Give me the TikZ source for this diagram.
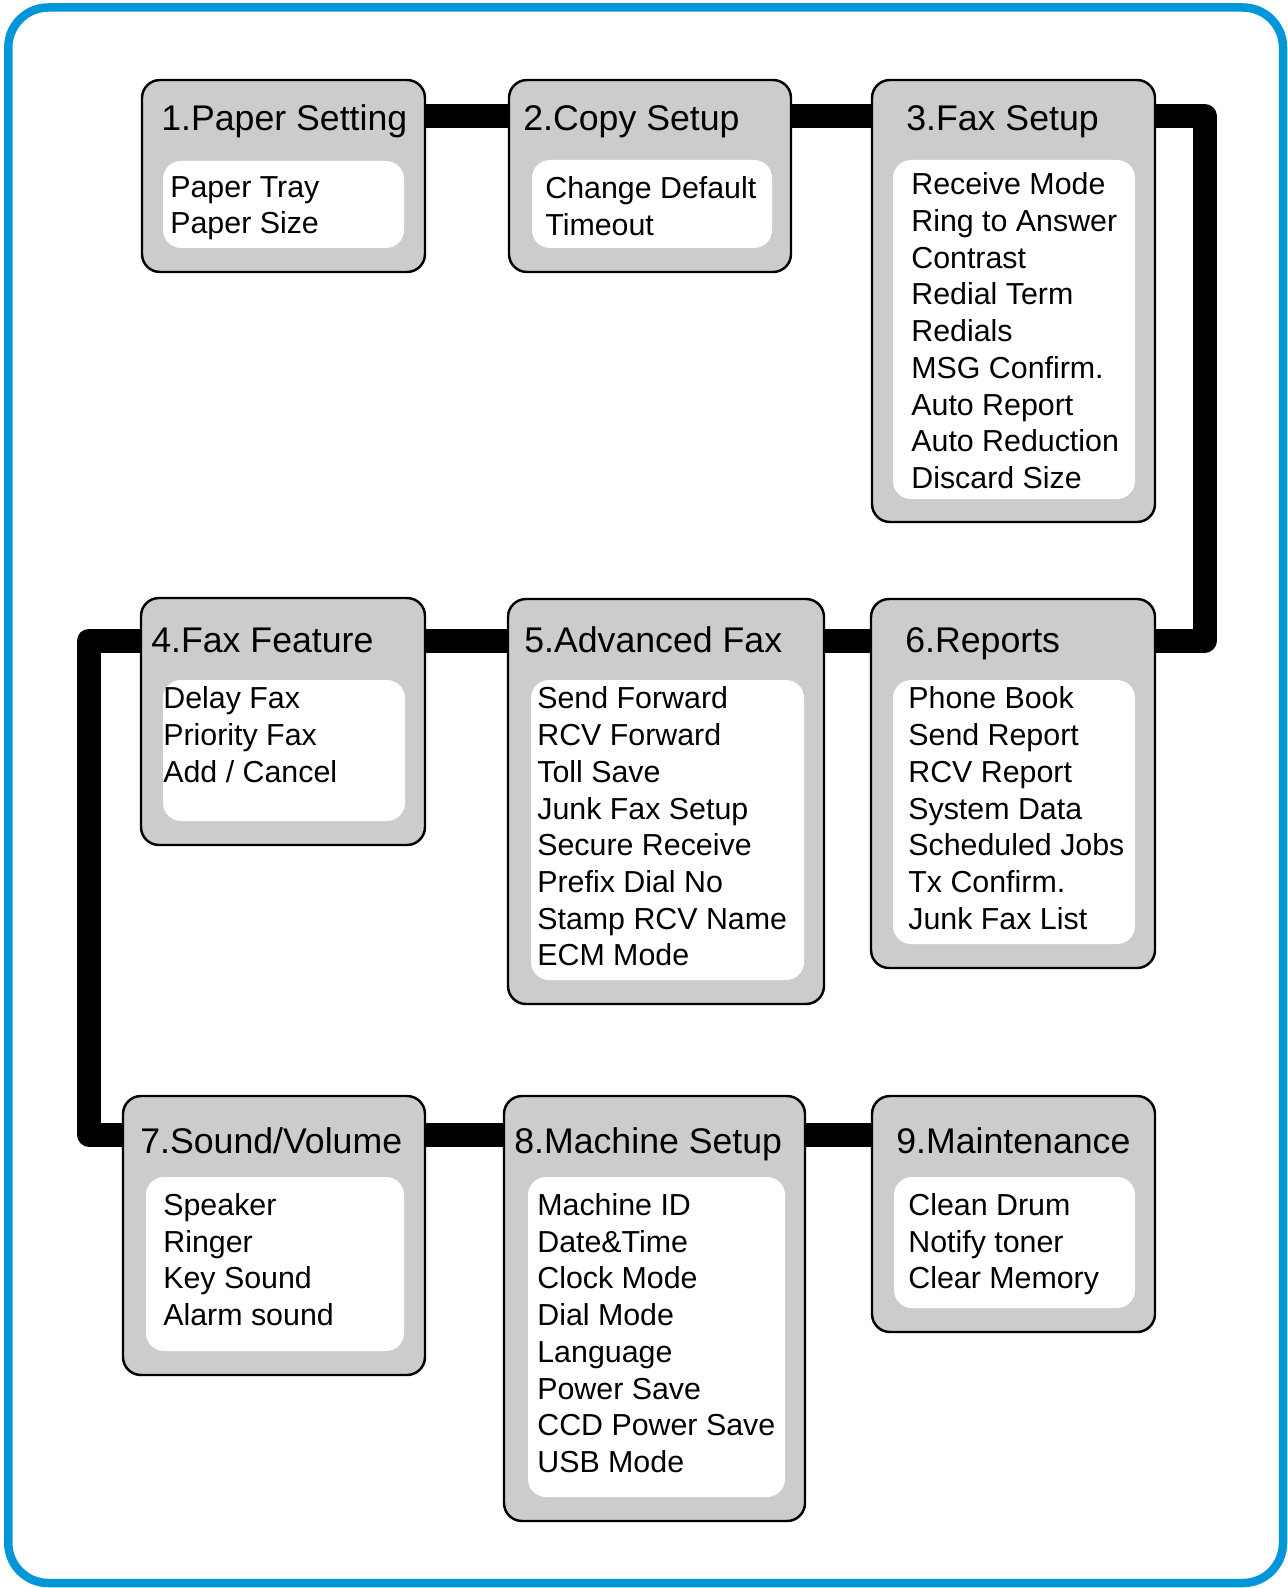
\documentclass[tikz,border=0pt]{standalone}
\usepackage{fontspec}
\setmainfont{Liberation Sans}
\definecolor{framecyan}{RGB}{0,150,215}
\definecolor{boxgray}{RGB}{204,204,204}
\usetikzlibrary{backgrounds}

\begin{document}
\begin{tikzpicture}[
    menubox/.style={draw=black,line width=1.4pt,fill=boxgray,rounded corners=0.36cm,inner sep=0pt},
    itembox/.style={fill=white,rounded corners=0.36cm,inner sep=0pt},
    menutitle/.style={anchor=base west,inner sep=0pt,font=\fontsize{20.3pt}{23pt}\selectfont},
    menuitems/.style={anchor=north west,inner sep=0pt,align=left,font=\fontsize{17.28pt}{20.9pt}\selectfont},
    link/.style={line width=0.48cm,line join=round,black}]
  \useasboundingbox (0,0) rectangle (25.74,-31.76);

  % Outer frame
  \draw[framecyan,line width=0.17cm,rounded corners=0.8cm] (0.166,-0.15) rectangle (25.66,-31.66);

  % Row 1
  \node[menubox,minimum width=5.66cm,minimum height=3.84cm] (b1) at (5.67,-3.52) {};
  \node[itembox,minimum width=4.82cm,minimum height=1.74cm] (w1) at (5.67,-4.09) {};
  \node[menutitle] (t1) at (3.22,-2.62) {1.Paper Setting};
  \node[menuitems] (i1) at (3.40,-3.52) {Paper Tray\\Paper Size};

  \node[menubox,minimum width=5.64cm,minimum height=3.84cm] (b2) at (13.00,-3.52) {};
  \node[itembox,minimum width=4.80cm,minimum height=1.76cm] (w2) at (13.04,-4.08) {};
  \node[menutitle] (t2) at (10.46,-2.62) {2.Copy Setup};
  \node[menuitems] (i2) at (10.90,-3.52) {Change Default\\Timeout};

  \node[menubox,minimum width=5.66cm,minimum height=8.84cm] (b3) at (20.27,-6.02) {};
  \node[itembox,minimum width=4.84cm,minimum height=6.78cm] (w3) at (20.28,-6.59) {};
  \node[menutitle] (t3) at (18.12,-2.62) {3.Fax Setup};
  \node[menuitems] (i3) at (18.22,-3.446) {Receive Mode\\Ring to Answer\\Contrast\\Redial Term\\Redials\\MSG Confirm.\\Auto Report\\Auto Reduction\\Discard Size};

  % Row 2
  \node[menubox,minimum width=5.68cm,minimum height=4.94cm] (b4) at (5.66,-14.43) {};
  \node[itembox,minimum width=4.84cm,minimum height=2.82cm] (w4) at (5.68,-15.01) {};
  \node[menutitle] (t4) at (3.02,-13.04) {4.Fax Feature};
  \node[menuitems] (i4) at (3.26,-13.73) {Delay Fax\\Priority Fax\\Add / Cancel};

  \node[menubox,minimum width=6.32cm,minimum height=8.10cm] (b5) at (13.32,-16.03) {};
  \node[itembox,minimum width=5.46cm,minimum height=6.00cm] (w5) at (13.35,-16.60) {};
  \node[menutitle] (t5) at (10.48,-13.04) {5.Advanced Fax};
  \node[menuitems] (i5) at (10.74,-13.73) {Send Forward\\RCV Forward\\Toll Save\\Junk Fax Setup\\Secure Receive\\Prefix Dial No\\Stamp RCV Name\\ECM Mode};

  \node[menubox,minimum width=5.68cm,minimum height=7.38cm] (b6) at (20.26,-15.67) {};
  \node[itembox,minimum width=4.84cm,minimum height=5.28cm] (w6) at (20.28,-16.24) {};
  \node[menutitle] (t6) at (18.10,-13.04) {6.Reports};
  \node[menuitems] (i6) at (18.16,-13.73) {Phone Book\\Send Report\\RCV Report\\System Data\\Scheduled Jobs\\Tx Confirm.\\Junk Fax List};

  % Row 3
  \node[menubox,minimum width=6.04cm,minimum height=5.58cm] (b7) at (5.48,-24.71) {};
  \node[itembox,minimum width=5.16cm,minimum height=3.48cm] (w7) at (5.50,-25.28) {};
  \node[menutitle] (t7) at (2.80,-23.06) {7.Sound/Volume};
  \node[menuitems] (i7) at (3.26,-23.86) {Speaker\\Ringer\\Key Sound\\Alarm sound};

  \node[menubox,minimum width=6.02cm,minimum height=8.50cm] (b8) at (13.09,-26.17) {};
  \node[itembox,minimum width=5.14cm,minimum height=6.40cm] (w8) at (13.13,-26.74) {};
  \node[menutitle] (t8) at (10.28,-23.06) {8.Machine Setup};
  \node[menuitems] (i8) at (10.74,-23.86) {Machine ID\\Date\&Time\\Clock Mode\\Dial Mode\\Language\\Power Save\\CCD Power Save\\USB Mode};

  \node[menubox,minimum width=5.66cm,minimum height=4.72cm] (b9) at (20.27,-24.28) {};
  \node[itembox,minimum width=4.82cm,minimum height=2.62cm] (w9) at (20.29,-24.85) {};
  \node[menutitle] (t9) at (17.92,-23.06) {9.Maintenance};
  \node[menuitems] (i9) at (18.16,-23.86) {Clean Drum\\Notify toner\\Clear Memory};

  % Snake connector behind the boxes
  \coordinate (ne) at (24.09,-2.32);
  \coordinate (se) at (24.09,-12.81);
  \coordinate (sw) at (1.78,-12.81);
  \coordinate (ww) at (1.78,-22.69);
  \begin{pgfonlayer}{background}
    \draw[link] (b1.east |- ne) -- (ne) -- (se) -- (sw) -- (ww) -- (b9.west |- ww);
  \end{pgfonlayer}
\end{tikzpicture}
\end{document}
